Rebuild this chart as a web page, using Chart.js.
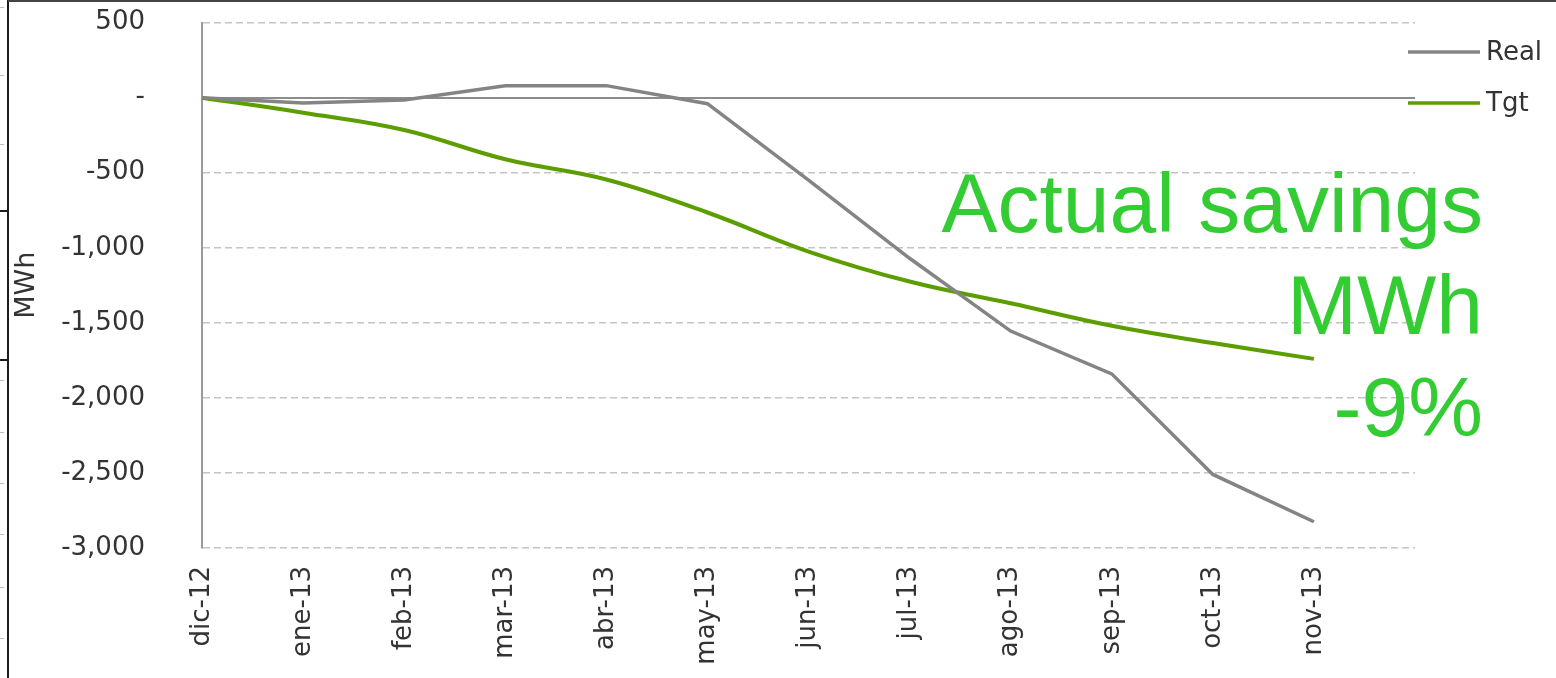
<!DOCTYPE html>
<html>
<head>
<meta charset="utf-8">
<script src="https://cdn.jsdelivr.net/npm/chart.js@4/dist/chart.umd.min.js"></script>
<style>
  html, body { margin: 0; padding: 0; background: #fff; }
  #wrap { position: relative; width: 1556px; height: 678px; overflow: hidden; }
  #box { position: absolute; left: 0; top: 0; width: 1556px; height: 678px; }
  #note {
    position: absolute; right: 73px; top: 152px;
    font-family: "Liberation Sans", Arial, sans-serif; font-size: 84px; line-height: 102px;
    color: #33cc33; text-align: right; white-space: nowrap;
  }
  .edge { position: absolute; background: #1c1c1c; }
  .tick { position: absolute; left: 0; width: 4px; height: 1px; background: #bdbdbd; }
</style>
</head>
<body>
<div id="wrap">
  <div id="box"><canvas id="chartSavings"></canvas></div>
  <div id="note">Actual savings<br>MWh<br>-9%</div>
  <!-- slide edge behind the pasted chart -->
  <div class="edge" style="left:7px;top:0;width:2px;height:678px"></div>
  <div class="edge" style="left:8px;top:0;width:1548px;height:2px;background:#444"></div>
  <div class="edge" style="left:0;top:210px;width:8px;height:2px"></div>
  <div class="edge" style="left:0;top:359px;width:8px;height:2px"></div>
  <div class="tick" style="top:7px"></div>
  <div class="tick" style="top:75px"></div>
  <div class="tick" style="top:144px"></div>
  <div class="tick" style="top:380px"></div>
  <div class="tick" style="top:432px"></div>
  <div class="tick" style="top:483px"></div>
  <div class="tick" style="top:534px"></div>
  <div class="tick" style="top:587px"></div>
  <div class="tick" style="top:638px"></div>
</div>
<script>
const MONTHS = ["dic-12", "ene-13", "feb-13", "mar-13", "abr-13", "may-13", "jun-13", "jul-13", "ago-13", "sep-13", "oct-13", "nov-13"];
const REAL = [0, -35, -15, 80, 80, -40, -550, -1070, -1555, -1840, -2510, -2825];
const TGT = [0, -100, -215, -410, -545, -765, -1025, -1225, -1370, -1520, -1635, -1740];
const Y_MIN = -3000;
const Y_MAX = 500;
const Y_STEP = 500;

const FONT = "'DejaVu Sans', Verdana, sans-serif";
const TEXT = "#333333";

// Excel-style accounting format: zero shows as a dash
function fmtMWh(v) {
  return v === 0 ? "-" : v.toLocaleString("en-US");
}

// legend drawn by hand so it can sit at the top right like the original
const sideLegend = {
  id: "sideLegend",
  afterDraw(chart) {
    const { ctx, chartArea } = chart;
    const rows = [52, 103];
    ctx.save();
    chart.data.datasets.forEach((ds, i) => {
      const y = rows[i];
      ctx.strokeStyle = ds.borderColor;
      ctx.lineWidth = 3.5;
      ctx.beginPath();
      ctx.moveTo(chartArea.right - 7, y);
      ctx.lineTo(chartArea.right + 65, y);
      ctx.stroke();
      ctx.fillStyle = TEXT;
      ctx.font = "26px " + FONT;
      ctx.textBaseline = "middle";
      ctx.fillText(ds.label, chartArea.right + 71, y + 1);
    });
    ctx.restore();
  },
};

const ctx = document.getElementById("chartSavings").getContext("2d");
new Chart(ctx, {
  type: "line",
  data: {
    labels: [...MONTHS, ""], // trailing empty slot: the plot runs one month past nov-13
    datasets: [
      {
        label: "Real",
        data: REAL,
        borderColor: "#848484",
        borderWidth: 3.5,
        pointRadius: 0,
        tension: 0,
      },
      {
        label: "Tgt",
        data: TGT,
        borderColor: "#5c9e00",
        borderWidth: 4,
        pointRadius: 0,
        tension: 0.4,
      },
    ],
  },
  options: {
    animation: false,
    responsive: true,
    maintainAspectRatio: false,
    layout: { padding: { left: 0, top: 22, right: 141, bottom: 0 } },
    plugins: { legend: { display: false }, tooltip: { enabled: false } },
    scales: {
      x: {
        type: "category",
        offset: false,
        grid: { display: false },
        border: { display: false },
        ticks: {
          autoSkip: false,
          minRotation: 90,
          maxRotation: 90,
          padding: 10,
          color: TEXT,
          font: { family: FONT, size: 26 },
        },
        afterFit(scale) { scale.height = 130; },
      },
      y: {
        min: Y_MIN,
        max: Y_MAX,
        grid: {
          drawTicks: true,
          tickLength: 50, // invisible, only pushes the labels away from the axis
          tickColor: "rgba(0,0,0,0)",
          color: (c) => (c.tick && c.tick.value === 0 ? "#8c8c8c" : "#c4c4c4"),
          lineWidth: (c) => (c.tick && c.tick.value === 0 ? 2 : 1.5),
        },
        border: {
          display: true,
          color: "#9a9a9a",
          width: 2,
          dash: (c) => (c.tick && c.tick.value === 0 ? [] : [7, 4]),
        },
        ticks: {
          stepSize: Y_STEP,
          padding: 7,
          color: TEXT,
          font: { family: FONT, size: 26 },
          callback: (v) => fmtMWh(v),
        },
        title: {
          display: true,
          text: "MWh",
          color: TEXT,
          font: { family: FONT, size: 27 },
          padding: { top: 11, bottom: 0 },
        },
        afterFit(scale) { scale.width = 202; },
      },
    },
  },
  plugins: [sideLegend],
});
</script>
</body>
</html>
